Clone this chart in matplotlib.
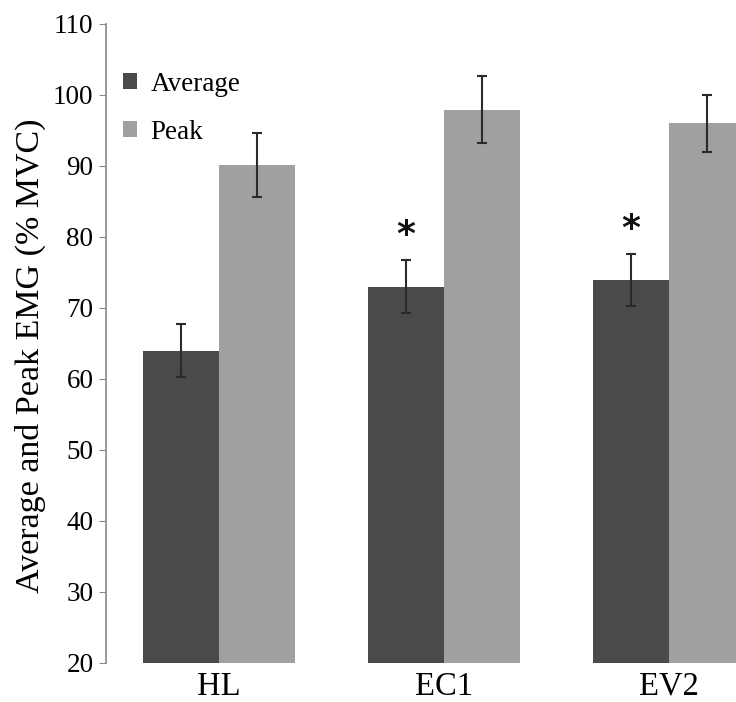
import numpy as np
import matplotlib
matplotlib.use("Agg")
import matplotlib.pyplot as plt

plt.rcParams['font.family'] = ['Liberation Serif', 'DejaVu Serif']

categories = ['HL', 'EC1', 'EV2']
average = [64.0, 73.0, 73.9]
average_err = [3.7, 3.75, 3.65]
peak = [90.1, 97.9, 96.0]
peak_err = [4.55, 4.7, 4.05]
significant = [False, True, True]

dark = '#4a4a4a'
light = '#a0a0a0'

fig = plt.figure(figsize=(7.36, 7.02), dpi=100)
ax = fig.add_axes([0.144, 0.0556, 0.856, 0.9104])

x = np.arange(len(categories))
w = 0.337
err_kw = dict(ecolor='#2a2a2a', elinewidth=1.5, capsize=3.3, capthick=1.5)
ax.bar(x - w/2, average, w, yerr=average_err, color=dark, label='Average',
       error_kw=err_kw, zorder=2)
ax.bar(x + w/2, peak, w, yerr=peak_err, color=light, label='Peak',
       error_kw=err_kw, zorder=2)

# significance markers above the average bars
for i, flag in enumerate(significant):
    if flag:
        ax.annotate('*', xy=(x[i] - w/2, average[i] + average_err[i]),
                    xytext=(0, 6), textcoords='offset points',
                    ha='center', va='bottom', fontsize=26, fontweight='bold',
                    family='DejaVu Sans', color='#111111')

ax.set_xlim(-0.5, 2.297)
ax.set_ylim(20, 110)
ax.set_yticks(np.arange(20, 111, 10))
ax.set_xticks(x)
ax.set_xticklabels(categories, fontsize=23.5)
ax.tick_params(axis='x', length=0, pad=6)
ax.tick_params(axis='y', labelsize=19.5, length=5, color='#888888', pad=4)
ax.set_ylabel('Average and Peak EMG (% MVC)', fontsize=24.5)
ax.yaxis.set_label_coords(-0.095, 0.48)

for s in ['top', 'right', 'bottom']:
    ax.spines[s].set_visible(False)
ax.spines['left'].set_color('#888888')
ax.spines['left'].set_linewidth(1.2)

ax.legend(loc='upper left', bbox_to_anchor=(0.027, 0.925), frameon=False,
          fontsize=19.5, handlelength=0.52, handleheight=0.52,
          handletextpad=0.5, labelspacing=0.85, borderpad=0,
          borderaxespad=0)

fig.savefig('out.png', dpi=100)
